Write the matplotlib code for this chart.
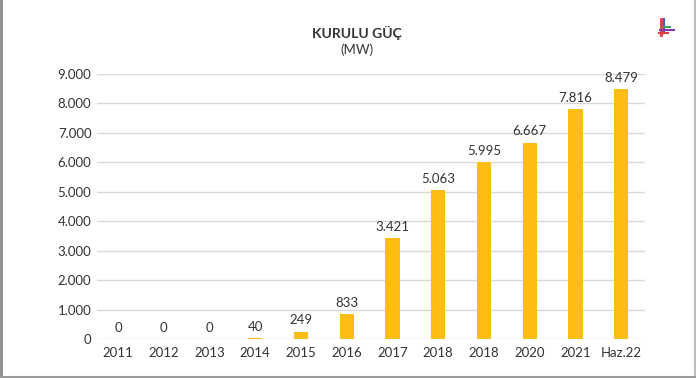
import matplotlib
matplotlib.use("Agg")
import matplotlib.pyplot as plt
from matplotlib.lines import Line2D

categories = ["2011", "2012", "2013", "2014", "2015", "2016", "2017", "2018", "2018", "2020", "2021", "Haz.22"]
values = [0, 0, 0, 40, 249, 833, 3421, 5063, 5995, 6667, 7816, 8479]
value_labels = ["0", "0", "0", "40", "249", "833", "3.421", "5.063", "5.995", "6.667", "7.816", "8.479"]
yticks = [0, 1000, 2000, 3000, 4000, 5000, 6000, 7000, 8000, 9000]
ytick_labels = ["0", "1.000", "2.000", "3.000", "4.000", "5.000", "6.000", "7.000", "8.000", "9.000"]

plt.rcParams['font.family'] = ['Lato', 'DejaVu Sans']
txt = "#333333"

fig = plt.figure(figsize=(6.96, 3.78), dpi=100)
ax = fig.add_axes([97/696, 1-339/378, (645-97)/696, (339-74)/378])

x = list(range(len(categories)))
ax.bar(x, values, width=0.31, color="#FDBD14", zorder=3)
for xi, v, lab in zip(x, values, value_labels):
    ax.text(xi, v + 180, lab, ha="center", va="bottom", fontsize=9.5, color=txt)

ax.set_ylim(0, 9000)
ax.set_xlim(-0.46, 11.52)
ax.set_yticks(yticks)
ax.set_yticklabels(ytick_labels)
ax.set_xticks(x)
ax.set_xticklabels(categories)
ax.tick_params(axis="both", length=0, labelsize=9.5, colors=txt)
ax.tick_params(axis="y", pad=4)
ax.tick_params(axis="x", pad=6)
ax.grid(axis="y", color="#d9d9d9", linewidth=1, zorder=0)
for s in ax.spines.values():
    s.set_visible(False)

fig.text(357/696, 1-33/378, "KURULU GÜÇ", ha="center", va="center", fontsize=10, fontweight="bold", color=txt)
fig.text(357/696, 1-50/378, "(MW)", ha="center", va="center", fontsize=9.5, color=txt)

# logo
def fx(px): return px/696
def fy(py): return 1-py/378
fig.add_artist(Line2D([fx(661), fx(661)], [fy(19), fy(35)], color="#e03a3a", lw=2))
fig.add_artist(Line2D([fx(663.5), fx(663.5)], [fy(19), fy(33)], color="#3a5fcf", lw=1.5))
fig.add_artist(Line2D([fx(664), fx(670)], [fy(27), fy(27)], color="#3aa65a", lw=1.5))
fig.add_artist(Line2D([fx(660), fx(674)], [fy(30), fy(30)], color="#8a3aa6", lw=1.5))
fig.add_artist(Line2D([fx(659), fx(668)], [fy(33), fy(33)], color="#e03a3a", lw=1.5))

# border
fig.add_artist(Line2D([fx(1), fx(1)], [0, 1], color="#8a8a8a", lw=2))
fig.add_artist(Line2D([fx(694.5), fx(694.5)], [0, 1], color="#bdbdbd", lw=1.5))
fig.add_artist(Line2D([0, 1], [fy(377), fy(377)], color="#9a9a9a", lw=1.5))

fig.savefig("out.png", dpi=100, facecolor="white")
